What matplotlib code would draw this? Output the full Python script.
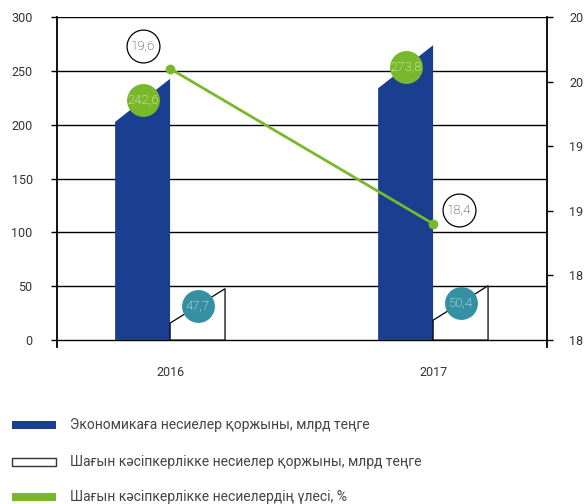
import matplotlib
matplotlib.use("Agg")
import matplotlib.pyplot as plt
from matplotlib.patches import Polygon, Rectangle
from matplotlib.transforms import offset_copy

plt.rcParams['font.family'] = ['Roboto', 'DejaVu Sans']

# данные
years = ['2016', '2017']
economy_loans = [242.6, 273.8]
small_business_loans = [47.7, 50.4]
small_business_share = [19.6, 18.4]
left_ticks = [0, 50, 100, 150, 200, 250, 300]
right_ticks = [17.5, 18.0, 18.5, 19.0, 19.5, 20.0]
right_tick_labels = ['18', '18', '19', '19', '20', '20']
legend_labels = ['Экономикаға несиелер қоржыны, млрд теңге',
                 'Шағын кәсіпкерлікке несиелер қоржыны, млрд теңге',
                 'Шағын кәсіпкерлікке несиелердің үлесі, %']

blue = '#1a3f91'
green = '#78b82a'
teal = '#3690a4'
txt = '#333333'

def fmt(v):
    return ('%.1f' % v).replace('.', ',')

fig = plt.figure(figsize=(5.85, 5.04), dpi=100)
ax = fig.add_axes([0.0974, 0.3125, 0.8376, 0.6538])
ax.set_xlim(-0.43, 1.433)
ax.set_ylim(-6, 300)

for t in left_ticks:
    ax.axhline(t, color='black', lw=1, zorder=0.5)

w = 0.209
blue_drop = 40
white_drop = 32
for i, (v1, v2) in enumerate(zip(economy_loans, small_business_loans)):
    p1 = Polygon([(i - w, 0), (i - w, v1 - blue_drop), (i, v1), (i, 0)],
                 closed=True, facecolor=blue, edgecolor='none', zorder=2)
    ax.add_patch(p1)
    p2 = Polygon([(i, 0), (i, v2 - white_drop), (i + w, v2), (i + w, 0)],
                 closed=True, facecolor='white', edgecolor='black', lw=0.9, zorder=2)
    ax.add_patch(p2)
    # подписи в кружках на середине скошенной крыши
    ax.scatter(i - w / 2, v1 - blue_drop / 2, s=560, color=green, zorder=4, linewidths=0)
    ax.text(i - w / 2, v1 - blue_drop / 2, fmt(v1), color='white', fontsize=9.5,
            ha='center', va='center', zorder=5, fontweight='light')
    ax.scatter(i + w / 2, v2 - white_drop / 2, s=560, color=teal, zorder=4, linewidths=0)
    ax.text(i + w / 2, v2 - white_drop / 2, fmt(v2), color='white', fontsize=9.5,
            ha='center', va='center', zorder=5, fontweight='light')

ax.set_xticks(range(len(years)))
ax.set_xticklabels(years)
ax.tick_params(axis='x', length=0, pad=14, labelsize=9, labelcolor=txt)
ax.set_yticks(left_ticks)
ax.tick_params(axis='y', length=4.5, width=1, pad=13, labelsize=9, labelcolor=txt)
for s in ['top', 'bottom', 'right']:
    ax.spines[s].set_visible(False)
ax.spines['left'].set_linewidth(1.3)

ax2 = ax.twinx()
ax2.set_ylim(17.45, 20.0)
ax2.plot(range(len(years)), small_business_share, color=green, lw=2,
         marker='o', markersize=6, zorder=3)
ax2.set_yticks(right_ticks)
ax2.set_yticklabels(right_tick_labels)
ax2.tick_params(axis='y', length=4.5, width=1, pad=11.5, labelsize=9, labelcolor=txt)
for s in ['top', 'bottom', 'left']:
    ax2.spines[s].set_visible(False)
ax2.spines['right'].set_linewidth(1.3)

offsets = [(-27, 23), (26, 14)]
for i, v in enumerate(small_business_share):
    tr = offset_copy(ax2.transData, fig=fig, x=offsets[i][0], y=offsets[i][1], units='dots')
    ax2.scatter(i, v, s=560, facecolor='white', edgecolor='black', linewidths=0.9,
                transform=tr, zorder=4)
    ax2.text(i, v, fmt(v), transform=tr, ha='center', va='center', fontsize=9.5,
             color='#222222', zorder=5, fontweight='light')

# легенда
H = 504.0
Wd = 585.0
rows = [425, 462, 497]
styles = [dict(facecolor=blue, edgecolor='none'),
          dict(facecolor='white', edgecolor='#333333', lw=1),
          dict(facecolor=green, edgecolor='none')]
for y, lab, st in zip(rows, legend_labels, styles):
    fig.add_artist(Rectangle((12 / Wd, (H - y - 4) / H), 44 / Wd, 8 / H,
                             transform=fig.transFigure, **st))
    fig.text(70 / Wd, (H - y) / H, lab, fontsize=10, color='#444444', va='center')

fig.savefig('out.png', dpi=100)
